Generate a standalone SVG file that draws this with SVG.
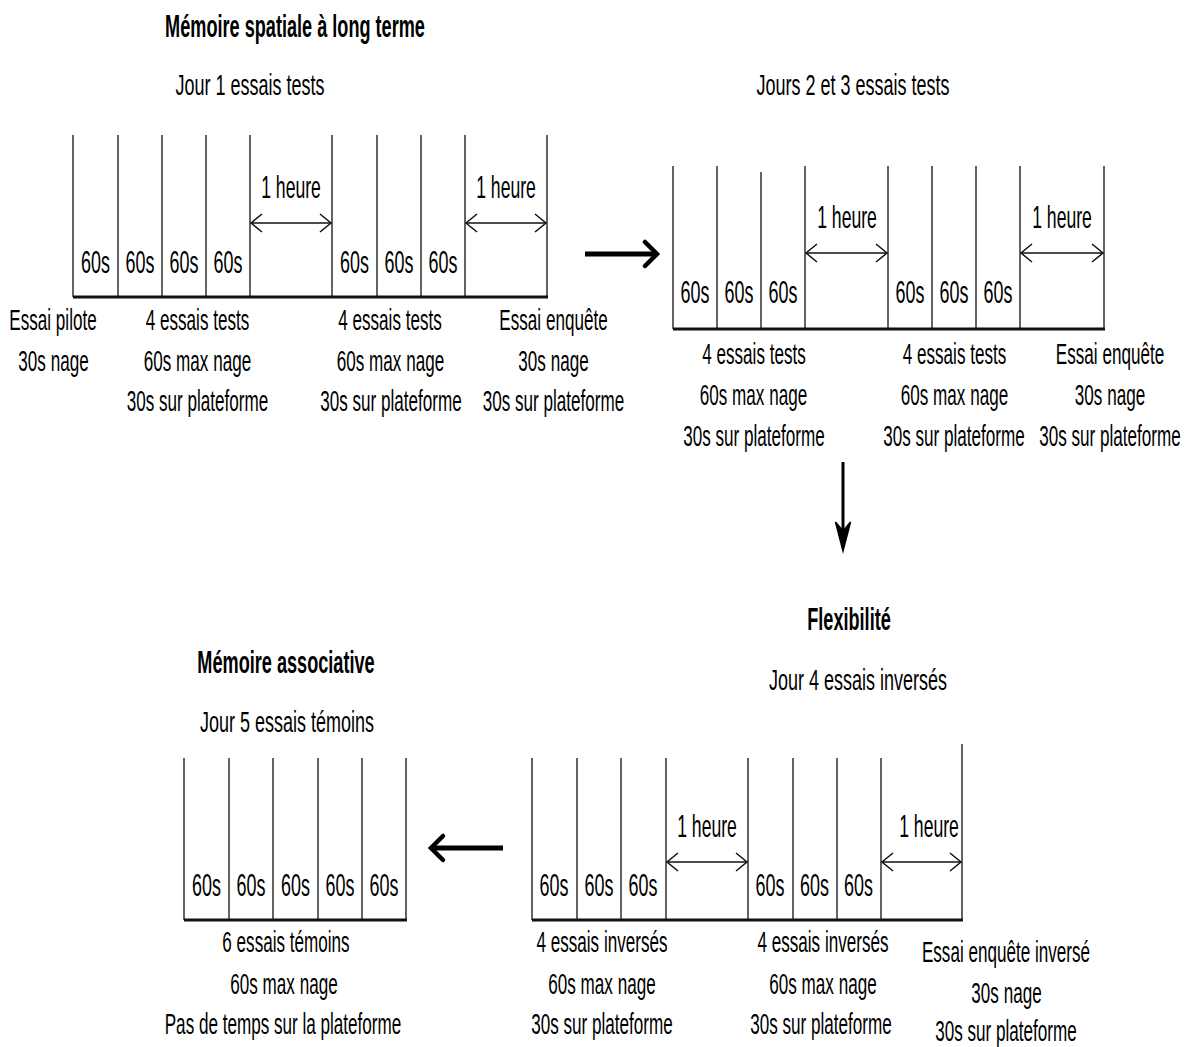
<svg xmlns="http://www.w3.org/2000/svg" width="1189" height="1047" viewBox="0 0 1189 1047">
<style>
  text { font-family: "Liberation Sans", Arial, sans-serif; fill: #000; text-anchor: middle; }
  .b { font-weight: bold; font-size: 31px; }
  .s { font-size: 30px; }
  .l { font-size: 30px; }
  .c { font-size: 32px; }
  .v { stroke: #222; stroke-width: 1.4; fill: none; }
  .base { stroke: #111; stroke-width: 3; fill: none; }
  .dbl { stroke: #111; stroke-width: 1.5; fill: none; marker-start: url(#oh); marker-end: url(#oh); }
  .big { stroke: #000; stroke-width: 5; fill: none; }
  .chev { stroke: #000; stroke-width: 4.5; fill: none; stroke-linejoin: miter; stroke-linecap: round; }
</style>
<defs>
  <marker id="oh" markerUnits="userSpaceOnUse" markerWidth="14" markerHeight="20" viewBox="0 0 14 20" refX="12" refY="10" orient="auto-start-reverse">
    <path d="M1,1 L12,10 L1,19" fill="none" stroke="#111" stroke-width="1.5"/>
  </marker>
</defs>
<rect width="1189" height="1047" fill="#fff"/>

<!-- Titles -->
<g id="title-spatial">
  <text class="b" transform="translate(295 37) scale(0.585 1)">Mémoire spatiale à long terme</text>
</g>
<g id="title-day1">
  <text class="s" transform="translate(250 95) scale(0.6 1)">Jour 1 essais tests</text>
</g>
<g id="title-day23">
  <text class="s" transform="translate(853 95) scale(0.6 1)">Jours 2 et 3 essais tests</text>
</g>
<g id="title-flex">
  <text class="b" transform="translate(849 630) scale(0.585 1)">Flexibilité</text>
</g>
<g id="title-day4">
  <text class="s" transform="translate(858 690) scale(0.6 1)">Jour 4 essais inversés</text>
</g>
<g id="title-assoc">
  <text class="b" transform="translate(286 673) scale(0.585 1)">Mémoire associative</text>
</g>
<g id="title-day5">
  <text class="s" transform="translate(287 732) scale(0.6 1)">Jour 5 essais témoins</text>
</g>

<!-- Block day 1 -->
<g id="block-day1">
  <path class="v" d="M73,135V297 M118,135V297 M162,135V297 M206,135V297 M250,135V297 M332,135V297 M377,135V297 M421,135V297 M465,135V297 M547,135V297"/>
  <path class="base" d="M73,297H548"/>
  <line class="dbl" x1="251" y1="223" x2="331" y2="223"/>
  <line class="dbl" x1="466" y1="223" x2="546" y2="223"/>
  <text class="c" transform="translate(291 198) scale(0.55 1)">1 heure</text>
  <text class="c" transform="translate(506 198) scale(0.55 1)">1 heure</text>
  <text class="c" transform="translate(95.5 273) scale(0.56 1)">60s</text>
  <text class="c" transform="translate(140 273) scale(0.56 1)">60s</text>
  <text class="c" transform="translate(184 273) scale(0.56 1)">60s</text>
  <text class="c" transform="translate(228 273) scale(0.56 1)">60s</text>
  <text class="c" transform="translate(354.5 273) scale(0.56 1)">60s</text>
  <text class="c" transform="translate(399 273) scale(0.56 1)">60s</text>
  <text class="c" transform="translate(443 273) scale(0.56 1)">60s</text>
</g>
<g id="labels-day1">
  <text class="l" transform="translate(53 330) scale(0.57 1)">Essai pilote</text>
  <text class="l" transform="translate(53.5 371) scale(0.57 1)">30s nage</text>
  <text class="l" transform="translate(197.5 330) scale(0.57 1)">4 essais tests</text>
  <text class="l" transform="translate(197.5 371) scale(0.57 1)">60s max nage</text>
  <text class="l" transform="translate(197.5 411) scale(0.57 1)">30s sur plateforme</text>
  <text class="l" transform="translate(390 330) scale(0.57 1)">4 essais tests</text>
  <text class="l" transform="translate(390.5 371) scale(0.57 1)">60s max nage</text>
  <text class="l" transform="translate(391 411) scale(0.57 1)">30s sur plateforme</text>
  <text class="l" transform="translate(553.5 330) scale(0.57 1)">Essai enquête</text>
  <text class="l" transform="translate(553.5 371) scale(0.57 1)">30s nage</text>
  <text class="l" transform="translate(553.5 411) scale(0.57 1)">30s sur plateforme</text>
</g>

<!-- Block days 2 and 3 -->
<g id="block-day23">
  <path class="v" d="M673,166V329 M717,166V329 M761,172V329 M805,166V329 M888,166V329 M932,166V329 M976,166V329 M1020,166V329 M1104,166V329"/>
  <path class="base" d="M673,329H1105"/>
  <line class="dbl" x1="806" y1="253" x2="887" y2="253"/>
  <line class="dbl" x1="1021" y1="253" x2="1103" y2="253"/>
  <text class="c" transform="translate(847 228) scale(0.55 1)">1 heure</text>
  <text class="c" transform="translate(1062 228) scale(0.55 1)">1 heure</text>
  <text class="c" transform="translate(695 303) scale(0.56 1)">60s</text>
  <text class="c" transform="translate(739 303) scale(0.56 1)">60s</text>
  <text class="c" transform="translate(783 303) scale(0.56 1)">60s</text>
  <text class="c" transform="translate(910 303) scale(0.56 1)">60s</text>
  <text class="c" transform="translate(954 303) scale(0.56 1)">60s</text>
  <text class="c" transform="translate(998 303) scale(0.56 1)">60s</text>
</g>
<g id="labels-day23">
  <text class="l" transform="translate(754 364) scale(0.57 1)">4 essais tests</text>
  <text class="l" transform="translate(753.5 405) scale(0.57 1)">60s max nage</text>
  <text class="l" transform="translate(754 446) scale(0.57 1)">30s sur plateforme</text>
  <text class="l" transform="translate(954.5 364) scale(0.57 1)">4 essais tests</text>
  <text class="l" transform="translate(954.5 405) scale(0.57 1)">60s max nage</text>
  <text class="l" transform="translate(954 446) scale(0.57 1)">30s sur plateforme</text>
  <text class="l" transform="translate(1110 364) scale(0.57 1)">Essai enquête</text>
  <text class="l" transform="translate(1110 405) scale(0.57 1)">30s nage</text>
  <text class="l" transform="translate(1110 446) scale(0.57 1)">30s sur plateforme</text>
</g>

<!-- Block day 4 -->
<g id="block-day4">
  <path class="v" d="M532,758V920 M577,758V920 M621,758V920 M666,758V920 M748,758V920 M793,758V920 M837,758V920 M881,758V920 M962,744V920"/>
  <path class="base" d="M532,920H963"/>
  <line class="dbl" x1="667" y1="862" x2="747" y2="862"/>
  <line class="dbl" x1="882" y1="862" x2="961" y2="862"/>
  <text class="c" transform="translate(707 837) scale(0.55 1)">1 heure</text>
  <text class="c" transform="translate(929 837) scale(0.55 1)">1 heure</text>
  <text class="c" transform="translate(554 896) scale(0.56 1)">60s</text>
  <text class="c" transform="translate(599 896) scale(0.56 1)">60s</text>
  <text class="c" transform="translate(643 896) scale(0.56 1)">60s</text>
  <text class="c" transform="translate(770 896) scale(0.56 1)">60s</text>
  <text class="c" transform="translate(814.5 896) scale(0.56 1)">60s</text>
  <text class="c" transform="translate(858.5 896) scale(0.56 1)">60s</text>
</g>
<g id="labels-day4">
  <text class="l" transform="translate(602 952) scale(0.57 1)">4 essais inversés</text>
  <text class="l" transform="translate(602 994) scale(0.57 1)">60s max nage</text>
  <text class="l" transform="translate(602 1034) scale(0.57 1)">30s sur plateforme</text>
  <text class="l" transform="translate(823 952) scale(0.57 1)">4 essais inversés</text>
  <text class="l" transform="translate(823 994) scale(0.57 1)">60s max nage</text>
  <text class="l" transform="translate(821 1034) scale(0.57 1)">30s sur plateforme</text>
  <text class="l" transform="translate(1006 962) scale(0.57 1)">Essai enquête inversé</text>
  <text class="l" transform="translate(1006.5 1003) scale(0.57 1)">30s nage</text>
  <text class="l" transform="translate(1006 1041) scale(0.57 1)">30s sur plateforme</text>
</g>

<!-- Block day 5 -->
<g id="block-day5">
  <path class="v" d="M184,758V920 M229,758V920 M273,758V920 M318,758V920 M362,758V920 M406,758V920"/>
  <path class="base" d="M184,920H407"/>
  <text class="c" transform="translate(206.5 896) scale(0.56 1)">60s</text>
  <text class="c" transform="translate(251 896) scale(0.56 1)">60s</text>
  <text class="c" transform="translate(295.5 896) scale(0.56 1)">60s</text>
  <text class="c" transform="translate(340 896) scale(0.56 1)">60s</text>
  <text class="c" transform="translate(384 896) scale(0.56 1)">60s</text>
</g>
<g id="labels-day5">
  <text class="l" transform="translate(286 952) scale(0.57 1)">6 essais témoins</text>
  <text class="l" transform="translate(284 994) scale(0.57 1)">60s max nage</text>
  <text class="l" transform="translate(283 1034) scale(0.57 1)">Pas de temps sur la plateforme</text>
</g>

<!-- Connectors -->
<g id="connectors">
  <path class="big" d="M585,254H654"/>
  <path class="chev" d="M645,242 L657,254 L645,266"/>
  <path d="M843,462V536" stroke="#000" stroke-width="3" fill="none"/>
  <path d="M843,551 L835.5,522 L843,531 L850.5,522 Z" fill="#000" stroke="#000" stroke-width="1.5" stroke-linejoin="miter"/>
  <path class="big" d="M503,848H433"/>
  <path class="chev" d="M443,836 L431,848 L443,860"/>
</g>
</svg>
